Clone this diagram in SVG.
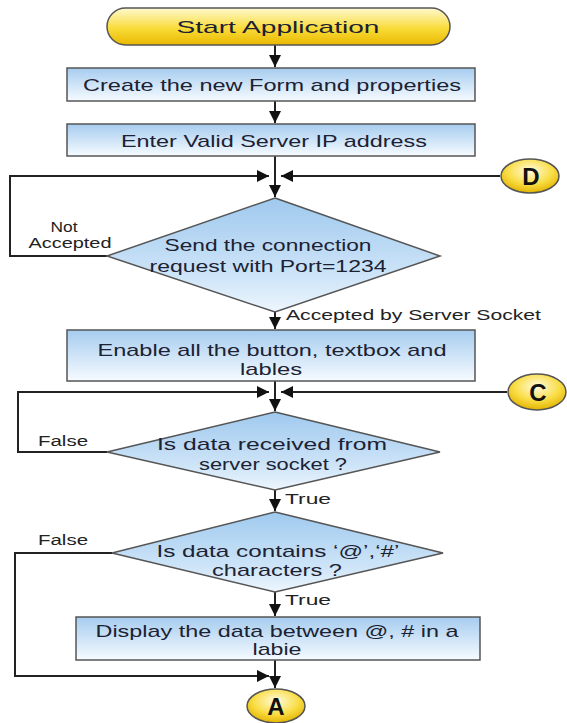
<svg xmlns="http://www.w3.org/2000/svg" width="567" height="723" viewBox="0 0 567 723">
<defs>
<linearGradient id="gBox" x1="0" y1="0" x2="0" y2="1">
<stop offset="0" stop-color="#a6ccef"/><stop offset="1" stop-color="#f6fbff"/>
</linearGradient>
<linearGradient id="gDia" x1="0" y1="0" x2="0" y2="1">
<stop offset="0" stop-color="#9fc9ee"/><stop offset="0.7" stop-color="#cfe5f8"/><stop offset="1" stop-color="#eef6fd"/>
</linearGradient>
<linearGradient id="gYel" x1="0" y1="0" x2="0" y2="1">
<stop offset="0" stop-color="#fff9d0"/><stop offset="0.55" stop-color="#f9dc3a"/><stop offset="1" stop-color="#e9b800"/>
</linearGradient>
<radialGradient id="gCirc" cx="0.5" cy="0.35" r="0.65">
<stop offset="0" stop-color="#fffbe0"/><stop offset="0.6" stop-color="#f9dd45"/><stop offset="1" stop-color="#e3b300"/>
</radialGradient>
<marker id="arr" viewBox="0 0 10 10" refX="10" refY="5" markerWidth="12" markerHeight="12" markerUnits="userSpaceOnUse" orient="auto">
<path d="M0,0 L10,5 L0,10 z" fill="#111"/>
</marker>
<style>
.box{fill:url(#gBox);stroke:#555;stroke-width:1.5}
.dia{fill:url(#gDia);stroke:#555;stroke-width:1.5}
.yel{fill:url(#gYel);stroke:#555;stroke-width:1.5}
.circ{fill:url(#gCirc);stroke:#555;stroke-width:1.5}
.t{font-family:"Liberation Sans",Arial,sans-serif;font-size:17px;fill:#1c2233;text-anchor:middle}
.l{font-family:"Liberation Sans",Arial,sans-serif;font-size:14px;fill:#222}
.c{font-family:"Liberation Sans",Arial,sans-serif;font-size:24px;font-weight:bold;fill:#111;text-anchor:middle}
.con{fill:none;stroke:#222;stroke-width:2;marker-end:url(#arr)}
</style>
</defs>
<rect width="567" height="723" fill="#fff"/>
<g id="connectors">
<path class="con" d="M275,45 V67"/>
<path class="con" d="M275,101 V123"/>
<path class="con" d="M275,156 V197"/>
<path class="con" d="M107,256 H10 V176 H269"/>
<path class="con" d="M500,176 H281"/>
<path class="con" d="M275,312 V329"/>
<path class="con" d="M275,381 V411"/>
<path class="con" d="M107,452 H18 V392 H269"/>
<path class="con" d="M507,392 H281"/>
<path class="con" d="M275,490 V511"/>
<path class="con" d="M112,553 H15 V676 H269"/>
<path class="con" d="M275,592 V616"/>
<path class="con" d="M275,660 V688"/>
<text class="l" x="64" y="232" text-anchor="middle" textLength="27" lengthAdjust="spacingAndGlyphs">Not</text>
<text class="l" x="70" y="248" text-anchor="middle" textLength="83" lengthAdjust="spacingAndGlyphs">Accepted</text>
<text class="l" x="286" y="320" textLength="255" lengthAdjust="spacingAndGlyphs">Accepted by Server Socket</text>
<text class="l" x="38" y="446" textLength="50" lengthAdjust="spacingAndGlyphs">False</text>
<text class="l" x="285" y="504" textLength="46" lengthAdjust="spacingAndGlyphs">True</text>
<text class="l" x="38" y="545" textLength="50" lengthAdjust="spacingAndGlyphs">False</text>
<text class="l" x="285" y="605" textLength="46" lengthAdjust="spacingAndGlyphs">True</text>
</g>
<g id="start">
<rect class="yel" x="107" y="8" width="343" height="37" rx="18.5"/>
<text class="t" x="278" y="33" textLength="203" lengthAdjust="spacingAndGlyphs">Start Application</text>
</g>
<g id="create-form">
<rect class="box" x="67" y="68" width="408" height="33"/>
<text class="t" x="272" y="91" textLength="378" lengthAdjust="spacingAndGlyphs">Create the new Form and properties</text>
</g>
<g id="enter-ip">
<rect class="box" x="67" y="124" width="408" height="32"/>
<text class="t" x="274" y="147" textLength="306" lengthAdjust="spacingAndGlyphs">Enter Valid Server IP address</text>
</g>
<g id="connector-d">
<ellipse class="circ" cx="530" cy="176" rx="29" ry="17"/>
<text class="c" x="531" y="185">D</text>
</g>
<g id="send-request">
<polygon class="dia" points="275,198 440,256 275,312 107,256"/>
<text class="t" x="268" y="251" textLength="207" lengthAdjust="spacingAndGlyphs">Send the connection</text>
<text class="t" x="268" y="272" textLength="237" lengthAdjust="spacingAndGlyphs">request with Port=1234</text>
</g>
<g id="enable-controls">
<rect class="box" x="67" y="330" width="408" height="51"/>
<text class="t" x="272" y="356" textLength="349" lengthAdjust="spacingAndGlyphs">Enable all the button, textbox and</text>
<text class="t" x="271" y="375" textLength="62" lengthAdjust="spacingAndGlyphs">lables</text>
</g>
<g id="connector-c">
<ellipse class="circ" cx="537" cy="392" rx="29" ry="18"/>
<text class="c" x="538" y="401">C</text>
</g>
<g id="data-received">
<polygon class="dia" points="275,412 440,452 275,490 107,452"/>
<text class="t" x="272" y="450" textLength="230" lengthAdjust="spacingAndGlyphs">Is data received from</text>
<text class="t" x="273" y="470" textLength="148" lengthAdjust="spacingAndGlyphs">server socket ?</text>
</g>
<g id="data-contains">
<polygon class="dia" points="275,512 443,553 275,592 112,553"/>
<text class="t" x="278" y="557" textLength="243" lengthAdjust="spacingAndGlyphs">Is data contains ‘@’,‘#’</text>
<text class="t" x="277" y="576" textLength="130" lengthAdjust="spacingAndGlyphs">characters ?</text>
</g>
<g id="display-data">
<rect class="box" x="76" y="617" width="404" height="43"/>
<text class="t" x="277" y="637" textLength="363" lengthAdjust="spacingAndGlyphs">Display the data between @, # in a</text>
<text class="t" x="277" y="655" textLength="49" lengthAdjust="spacingAndGlyphs">labie</text>
</g>
<g id="connector-a">
<ellipse class="circ" cx="276" cy="706" rx="29" ry="17"/>
<text class="c" x="276" y="715">A</text>
</g>
</svg>
